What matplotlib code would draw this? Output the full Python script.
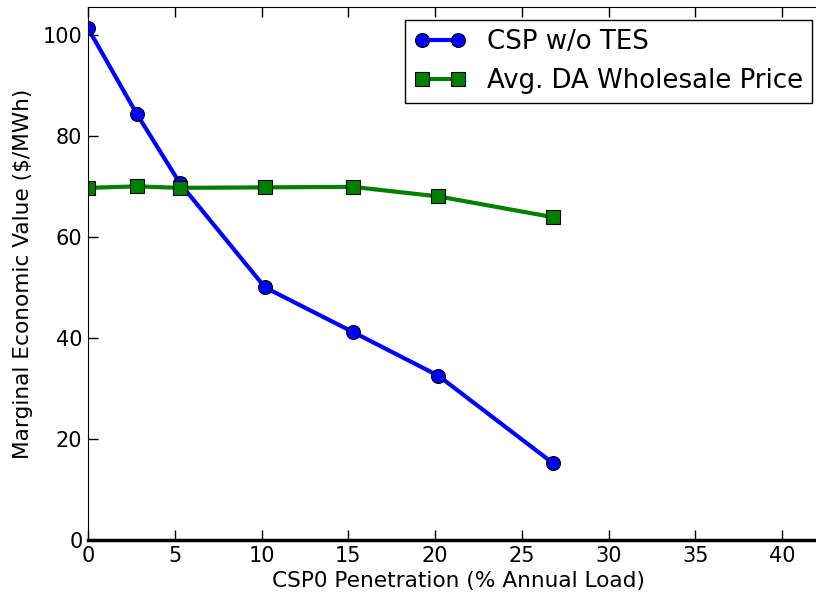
import matplotlib
matplotlib.use("Agg")
import matplotlib.pyplot as plt

# Data
penetration = [0.0, 2.8, 5.3, 10.2, 15.25, 20.2, 26.8]
csp_value = [101.3, 84.4, 70.6, 50.0, 41.2, 32.5, 15.2]
da_price = [69.7, 70.0, 69.7, 69.8, 69.9, 68.0, 63.9]

fig = plt.figure(figsize=(8.16, 5.95), dpi=100)
# axes extends past the right edge of the figure (the reference is cropped)
ax = fig.add_axes([88/816, 55/595, 740/816, 533/595])

ax.plot(penetration, csp_value, "-o", color="b", lw=3, ms=10,
        mec="k", mew=0.8, label="CSP w/o TES")
ax.plot(penetration, da_price, "-s", color=(0, 0.5, 0), lw=3, ms=10,
        mec="k", mew=0.8, label="Avg. DA Wholesale Price")

ax.set_xlim(0, 42.65)
ax.set_ylim(0, 105.5)
ax.set_xticks(range(0, 45, 5))
ax.set_yticks(range(0, 101, 20))
ax.tick_params(direction="in", top=True, right=False, length=7, width=1,
               labelsize=15, pad=4)
ax.spines["bottom"].set_linewidth(2.5)

ax.set_xlabel("CSP0 Penetration (% Annual Load)", fontsize=15.6, labelpad=4)
ax.set_ylabel("Marginal Economic Value ($/MWh)", fontsize=15.6, labelpad=7)

ax.legend(loc="upper right", bbox_to_anchor=(812/816, 1 - 20/595),
          bbox_transform=fig.transFigure, numpoints=2, fontsize=18.7,
          fancybox=False, edgecolor="k", framealpha=1,
          handlelength=2.0, borderaxespad=0, borderpad=0.35)

fig.savefig("out.png", dpi=100)
